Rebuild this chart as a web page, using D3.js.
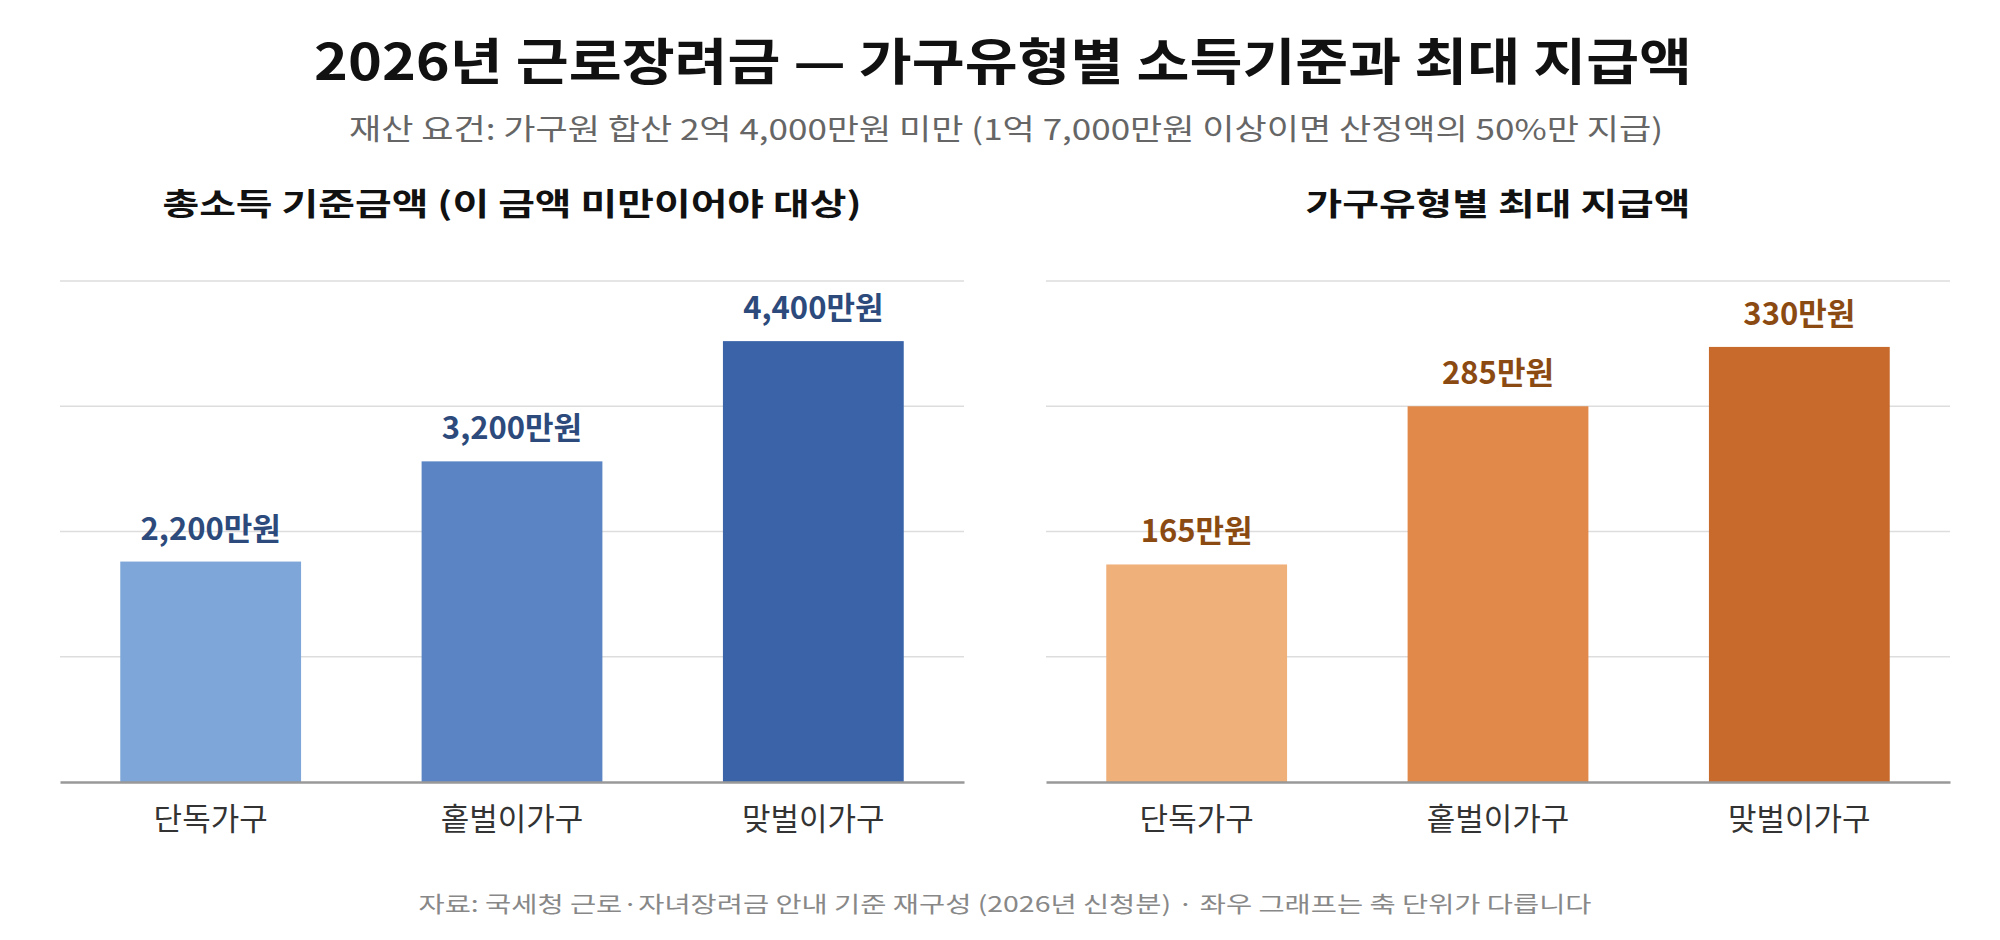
<!DOCTYPE html>
<html><head><meta charset="utf-8">
<script src="https://cdn.jsdelivr.net/npm/d3@7"></script>
<style>body{margin:0;background:#fff;font-family:"Noto Sans CJK KR","Noto Sans",sans-serif}</style>
</head><body><svg id="c" width="2000" height="940"></svg>
<script>
const categories = ["단독가구","홑벌이가구","맞벌이가구"];
const incomeLimit = [2200, 3200, 4400];
const maxPayment = [165, 285, 330];
const incomeLabels = ["2,200만원","3,200만원","4,400만원"];
const paymentLabels = ["165만원","285만원","330만원"];

const svg = d3.select("#c");
const F = '"Noto Sans CJK KR","Noto Sans",sans-serif';
function txt(x,y,size,weight,fill,s,len){
  const t = svg.append("text").attr("x",x).attr("y",y).attr("text-anchor","middle").attr("font-size",size).attr("font-weight",weight).attr("fill",fill).attr("font-family",F).text(s);
  if(len) t.attr("textLength",len).attr("lengthAdjust","spacingAndGlyphs");
  return t;
}
txt(1003,80,50,700,"#111","2026년 근로장려금 — 가구유형별 소득기준과 최대 지급액",1378);
txt(1006,140,29,400,"#666","재산 요건: 가구원 합산 2억 4,000만원 미만 (1억 7,000만원 이상이면 산정액의 50%만 지급)",1314);
txt(1005,912,22,400,"#888","자료: 국세청 근로·자녀장려금 안내 기준 재구성 (2026년 신청분) · 좌우 그래프는 축 단위가 다릅니다",1173);

function panel(x0, title, titleLen, vals, labels, max, colors, labColor){
  const w = 904, top = 281, base = 782;
  const g = svg.append("g").attr("transform",`translate(${x0},0)`);
  g.append("text").attr("x",w/2).attr("y",215).attr("text-anchor","middle").attr("font-size",31).attr("font-weight",700).attr("fill","#111").attr("font-family",F)
    .attr("textLength",titleLen).attr("lengthAdjust","spacingAndGlyphs").text(title);
  const x = d3.scaleBand().domain(categories).range([0,w]).paddingInner(0.4).paddingOuter(0.2);
  const y = d3.scaleLinear().domain([0,max]).range([base,top]);
  g.append("g").selectAll("line").data([1,2,3,4].map(k=>k*max/4)).join("line")
    .attr("x1",0).attr("x2",w).attr("y1",d=>y(d)).attr("y2",d=>y(d)).attr("stroke","#ddd").attr("stroke-width",1.3);
  g.selectAll("rect").data(vals).join("rect").attr("x",(d,i)=>x(categories[i])).attr("width",x.bandwidth())
    .attr("y",d=>y(d)).attr("height",d=>base-y(d)).attr("fill",(d,i)=>colors[i]);
  g.selectAll(".v").data(vals).join("text").attr("x",(d,i)=>x(categories[i])+x.bandwidth()/2).attr("y",d=>y(d)-22)
    .attr("text-anchor","middle").attr("font-size",31).attr("font-weight",700).attr("fill",labColor).attr("font-family",F).text((d,i)=>labels[i]);
  const ax = g.append("g").attr("transform",`translate(0,${base})`).call(d3.axisBottom(x).tickSize(0).tickPadding(26));
  ax.select(".domain").attr("stroke","#999").attr("stroke-width",2.5);
  ax.selectAll("text").attr("font-size",31).attr("fill","#333").attr("font-family",F);
}
panel(60,"총소득 기준금액 (이 금액 미만이어야 대상)",699,incomeLimit,incomeLabels,5000,["#7fa6d8","#5b84c4","#3a63a8"],"#2c4a7c");
panel(1046,"가구유형별 최대 지급액",385,maxPayment,paymentLabels,380,["#f0b07a","#e0894a","#c76a2b"],"#8b4a12");
</script></body></html>
